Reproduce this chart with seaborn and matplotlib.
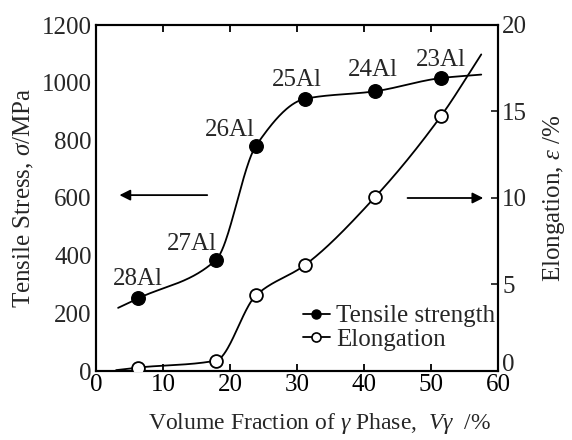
import numpy as np
import pandas as pd
import matplotlib
matplotlib.use("Agg")
import matplotlib.pyplot as plt
import seaborn as sns
from matplotlib.lines import Line2D
from matplotlib.transforms import ScaledTranslation

# ---------------- data ----------------
vol_fraction = [6.3, 17.9, 23.9, 31.2, 41.6, 51.5]
tensile = [252, 385, 782, 944, 970, 1016]
elongation = [0.2, 0.6, 4.38, 6.13, 10.03, 14.74]
alloy_labels = ["28Al", "27Al", "26Al", "25Al", "24Al", "23Al"]
# ends of the drawn smooth curves
tensile_curve_x = [3.3, 57.5]
tensile_curve_y = [219, 1028]
elong_curve_x = [3.0, 57.5]
elong_curve_y = [0.05, 18.3]

x_ticks = [0, 10, 20, 30, 40, 50, 60]
left_ticks = [0, 200, 400, 600, 800, 1000, 1200]
right_ticks = [0, 5, 10, 15, 20]


def pchip(x, y, xn):
    x = np.asarray(x, float); y = np.asarray(y, float)
    h = np.diff(x); d = np.diff(y) / h
    n = len(x); m = np.zeros(n)
    for k in range(1, n - 1):
        if d[k - 1] * d[k] <= 0:
            m[k] = 0
        else:
            w1 = 2 * h[k] + h[k - 1]; w2 = h[k] + 2 * h[k - 1]
            m[k] = (w1 + w2) / (w1 / d[k - 1] + w2 / d[k])
    m[0] = d[0]; m[-1] = d[-1]
    idx = np.clip(np.searchsorted(x, xn) - 1, 0, n - 2)
    t = (xn - x[idx]) / h[idx]
    h00 = 2 * t**3 - 3 * t**2 + 1; h10 = t**3 - 2 * t**2 + t
    h01 = -2 * t**3 + 3 * t**2; h11 = t**3 - t**2
    return h00 * y[idx] + h10 * h[idx] * m[idx] + h01 * y[idx + 1] + h11 * h[idx] * m[idx + 1]


sns.set_theme(style="ticks")
plt.rcParams["font.family"] = ["Liberation Serif", "DejaVu Serif"]
plt.rcParams["mathtext.fontset"] = "custom"
plt.rcParams["mathtext.rm"] = "Liberation Serif"
plt.rcParams["mathtext.it"] = "Liberation Serif:italic"
FS = 18

fig = plt.figure(figsize=(5.72, 4.4), dpi=100)
ax = fig.add_axes([96 / 572, 69 / 440, (498 - 96) / 572, (371 - 25) / 440])
ax2 = ax.twinx()

# smooth curves
tx = [tensile_curve_x[0]] + vol_fraction + [tensile_curve_x[1]]
ty = [tensile_curve_y[0]] + tensile + [tensile_curve_y[1]]
ex = [elong_curve_x[0]] + vol_fraction + [elong_curve_x[1]]
ey = [elong_curve_y[0]] + elongation + [elong_curve_y[1]]
xs1 = np.linspace(tx[0], tx[-1], 400)
xs2 = np.linspace(ex[0], ex[-1], 400)
df_t = pd.DataFrame({"x": xs1, "y": pchip(tx, ty, xs1)})
df_e = pd.DataFrame({"x": xs2, "y": pchip(ex, ey, xs2)})
sns.lineplot(data=df_t, x="x", y="y", ax=ax, color="black", lw=1.3, sort=False)
sns.lineplot(data=df_e, x="x", y="y", ax=ax2, color="black", lw=1.3, sort=False)

pts = pd.DataFrame({"x": vol_fraction, "t": tensile, "e": elongation})
sns.scatterplot(data=pts, x="x", y="t", ax=ax, color="black", s=95,
                edgecolor="black", linewidth=1, zorder=5)
sns.scatterplot(data=pts, x="x", y="e", ax=ax2, color="white", s=85,
                edgecolor="black", linewidth=1.3, zorder=5)

offsets = [(0, 19), (-24, 16), (-26, 16), (-8, 19), (-2, 21), (0, 18)]
for xv, yv, lab, off in zip(vol_fraction, tensile, alloy_labels, offsets):
    ax.annotate(lab, (xv, yv), xytext=off, textcoords="offset pixels",
                ha="center", va="center", fontsize=FS)

# arrows
ax.annotate("", xy=(3.5, 610), xytext=(16.6, 610),
            arrowprops=dict(arrowstyle="-|>", color="black", lw=1.3,
                            mutation_scale=16, shrinkA=0, shrinkB=0))
ax2.annotate("", xy=(57.8, 10), xytext=(46.5, 10),
             arrowprops=dict(arrowstyle="-|>", color="black", lw=1.3,
                             mutation_scale=16, shrinkA=0, shrinkB=0))

ax.set_xlim(0, 60)
ax.set_ylim(0, 1200)
ax2.set_ylim(0, 20)
ax.set_xticks(x_ticks)
ax.set_yticks(left_ticks)
ax2.set_yticks(right_ticks)
ax.set_xticklabels([str(v) for v in x_ticks], fontsize=FS)
ax.set_yticklabels([str(v) for v in left_ticks], fontsize=FS)
ax2.set_yticklabels([str(v) for v in right_ticks], fontsize=FS)
ax.tick_params(axis="x", direction="in", length=5, width=1.3, top=True, pad=2, colors="black")
ax.tick_params(axis="y", direction="in", length=0, pad=3)
ax2.tick_params(axis="y", direction="in", length=5, width=1.3, pad=3)

# lift the right-axis "0" slightly, as in the reference
lbl0 = ax2.get_yticklabels()[0]
lbl0.set_transform(lbl0.get_transform() + ScaledTranslation(0, 6 / 72, fig.dpi_scale_trans))

for a in (ax, ax2):
    for s in a.spines.values():
        s.set_visible(True)
        s.set_linewidth(1.5)
        s.set_color("black")

ax.set_xlabel(r"Volume Fraction of $\gamma$ Phase,  $V\gamma$  $/\%$", fontsize=17)
ax.xaxis.set_label_coords(0.555, -0.115)
ax.set_ylabel(r"Tensile Stress, $\sigma$/MPa", fontsize=FS, labelpad=4)
ax2.set_ylabel(r"Elongation, $\varepsilon$ /%", fontsize=FS, labelpad=10)

handles = [
    Line2D([], [], color="black", lw=1.3, marker="o", markersize=6.5,
           markerfacecolor="black", markeredgecolor="black"),
    Line2D([], [], color="black", lw=1.3, marker="o", markersize=6.5,
           markerfacecolor="white", markeredgecolor="black", markeredgewidth=1.2),
]
ax.legend(handles, ["Tensile strength", "Elongation"], loc="lower right",
          bbox_to_anchor=(1.0, 0.05), frameon=False, fontsize=FS,
          handlelength=1.1, handletextpad=0.25, labelspacing=0.05,
          borderaxespad=0, borderpad=0.1)

fig.savefig("out.png", dpi=100)
